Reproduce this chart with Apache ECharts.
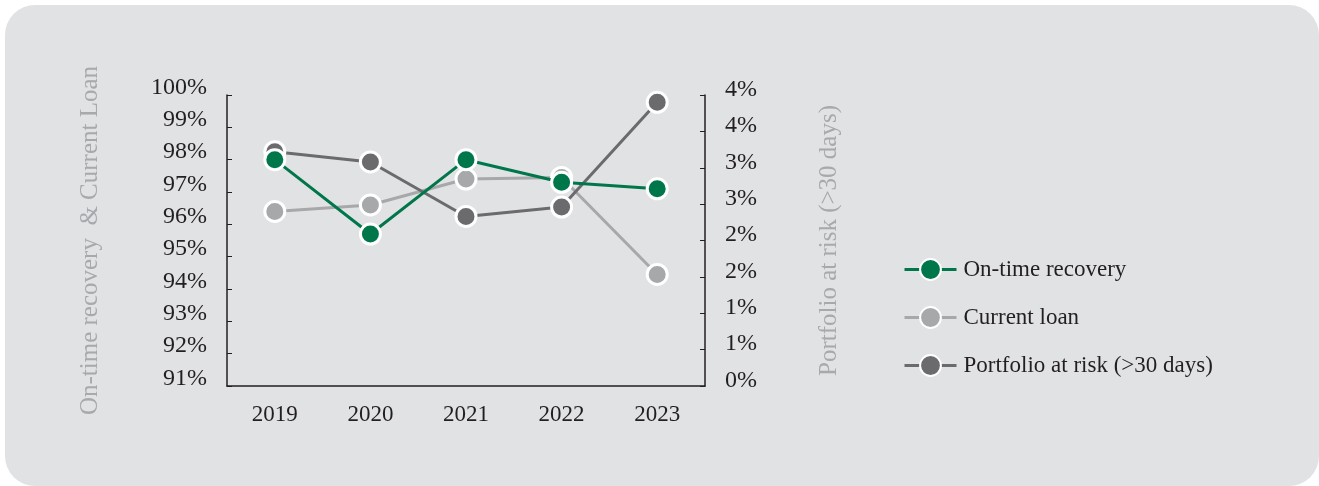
<!DOCTYPE html>
<html>
<head>
<meta charset="utf-8">
<script src="https://cdn.jsdelivr.net/npm/echarts@6/dist/echarts.min.js"></script>
<style>
html,body{margin:0;padding:0;background:#ffffff;width:1319px;height:486px;overflow:hidden;}
#bg{position:absolute;left:5px;top:5px;width:1314px;height:481px;background:#e1e2e4;border-radius:30px;}
#chart{position:absolute;left:0;top:0;width:1319px;height:486px;}
</style>
</head>
<body>
<div id="bg"></div>
<div id="chart"></div>
<script>
const categories = ['2019', '2020', '2021', '2022', '2023'];
const onTimeRecovery = [98.0, 95.7, 98.0, 97.3, 97.1];
const currentLoan = [96.4, 96.6, 97.4, 97.45, 94.45];
const portfolioAtRisk = [3.22, 3.08, 2.33, 2.46, 3.9];
const seriesNames = ['On-time recovery', 'Current loan', 'Portfolio at risk (>30 days)'];
const leftAxisName = 'On-time recovery  & Current Loan';
const rightAxisName = 'Portfolio at risk (>30 days)';

const FONT = '"Liberation Serif", "Times New Roman", serif';
const TXT = '#231f20';
const AXIS = '#231f20';
const GREEN = '#00774a';
const LIGHT = '#a7a8aa';
const DARK = '#6b6b6d';
const NAMEC = '#a7a9ac';

const chart = echarts.init(document.getElementById('chart'), null, {renderer: 'canvas'});

function lineSeries(name, data, color, yIdx, z) {
  return {
    name: name,
    type: 'line',
    yAxisIndex: yIdx,
    data: data,
    z: z,
    symbol: 'circle',
    symbolSize: 20,
    showSymbol: true,
    lineStyle: {color: color, width: 3},
    itemStyle: {color: color, borderColor: '#ffffff', borderWidth: 3},
    emphasis: {disabled: true},
    animation: false
  };
}

chart.setOption({
  backgroundColor: 'transparent',
  animation: false,
  textStyle: {fontFamily: FONT},
  grid: {left: 227, right: 614, top: 95, bottom: 100, containLabel: false},
  legend: {
    data: seriesNames,
    orient: 'vertical',
    left: 898,
    top: 253,
    itemGap: 25,
    itemWidth: 52,
    itemHeight: 26,
    lineStyle: {width: 3},
    textStyle: {fontFamily: FONT, fontSize: 23, color: TXT, padding: [0, 0, 0, 2]},
    selectedMode: false
  },
  xAxis: {
    type: 'category',
    data: categories,
    boundaryGap: true,
    axisLine: {lineStyle: {color: AXIS, width: 1.5}},
    axisTick: {inside: true, length: 5, alignWithLabel: false, lineStyle: {color: AXIS, width: 1}},
    axisLabel: {fontFamily: FONT, fontSize: 23, color: TXT, margin: 17},
    splitLine: {show: false}
  },
  yAxis: [
    {
      type: 'value',
      min: 91,
      max: 100,
      interval: 1,
      position: 'left',
      name: leftAxisName,
      nameLocation: 'middle',
      nameRotate: 90,
      nameGap: 124,
      nameTextStyle: {fontFamily: FONT, fontSize: 25, color: NAMEC},
      axisLine: {show: true, lineStyle: {color: AXIS, width: 1.5}},
      axisTick: {show: true, inside: true, length: 5, lineStyle: {color: AXIS, width: 1}},
      axisLabel: {fontFamily: FONT, fontSize: 24, color: TXT, margin: 20, verticalAlign: 'bottom', lineHeight: 15, formatter: v => v + '%'},
      splitLine: {show: false}
    },
    {
      type: 'value',
      min: 0,
      max: 4,
      interval: 0.5,
      position: 'right',
      name: rightAxisName,
      nameLocation: 'middle',
      nameRotate: 90,
      nameGap: 112,
      nameTextStyle: {fontFamily: FONT, fontSize: 25, color: NAMEC},
      axisLine: {show: true, lineStyle: {color: AXIS, width: 1.5}},
      axisTick: {show: true, inside: true, length: 5, lineStyle: {color: AXIS, width: 1}},
      axisLabel: {fontFamily: FONT, fontSize: 24, color: TXT, margin: 20, verticalAlign: 'bottom', lineHeight: 11, formatter: v => Math.round(v) + '%'},
      splitLine: {show: false}
    }
  ],
  series: [
    lineSeries(seriesNames[1], currentLoan, LIGHT, 0, 2),
    lineSeries(seriesNames[2], portfolioAtRisk, DARK, 1, 3),
    lineSeries(seriesNames[0], onTimeRecovery, GREEN, 0, 4)
  ]
});
</script>
</body>
</html>
